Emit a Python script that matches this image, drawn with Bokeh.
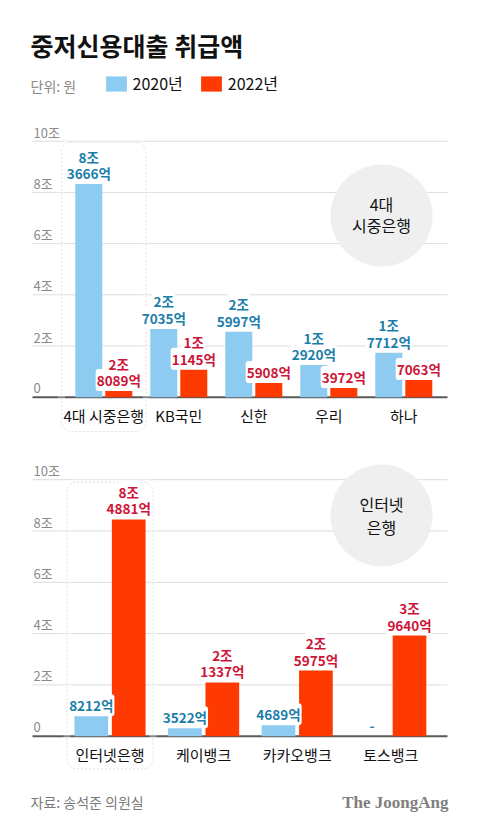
import math
from bokeh.plotting import figure
from bokeh.models import ColumnDataSource, Range1d, Legend, LegendItem, Label, BoxAnnotation
from bokeh.layouts import column
from bokeh.core.properties import value
from bokeh.embed import file_html
from bokeh.resources import INLINE

# ---------------- data ----------------
title_text = "중저신용대출 취급액"
unit_text = "단위: 원"
series_labels = ["2020년", "2022년"]
source_text = "자료: 송석준 의원실"
brand_text = "The JoongAng"

banks_a = ["4대 시중은행", "KB국민", "신한", "우리", "하나"]
a_2020 = [83666, 27035, 25997, 12920, 17712]        # 억원
a_2022 = [28089, 11145, 5908, 3972, 7063]           # 억원 (labelled values)
a_2022_drawn = [2809, 11145, 5908, 3972, 7063]      # bar heights as drawn in the original
group_a = ["4대", "시중은행"]

banks_b = ["인터넷은행", "케이뱅크", "카카오뱅크", "토스뱅크"]
b_2020 = [8212, 3522, 4689, None]
b_2022 = [84881, 21337, 25975, 39640]
group_b = ["인터넷", "은행"]

tick_values = [0, 2, 4, 6, 8, 10]
tick_labels = ["0", "2조", "4조", "6조", "8조", "10조"]

# ---------------- style ----------------
FONT = "Noto Sans CJK KR"
BLUE = "#8ecbf0"
RED = "#ff3a00"
BLUE_TXT = "#1b7ea9"
RED_TXT = "#cc1538"
GRID = "#dddddd"
W = 480
GRID_L, GRID_R = 32, 447
DODGE, BAR_W = 0.2, 0.36


def split_label(v):
    if v is None:
        return "", "-"
    if v >= 10000:
        return f"{v // 10000}조", f"{v % 10000}억"
    return "", f"{v}억"


def panel(cats, v20, v22, v22_bar, H, base_px, px_jo, px_cat, c0_px,
          circ_px, circ_lines, circ_offs, box_hw, box_top, box_bottom):
    n = len(cats)
    xr = Range1d(-c0_px / px_cat, (W - c0_px) / px_cat)
    yr = Range1d(-(H - base_px) / px_jo, base_px / px_jo)
    p = figure(width=W, height=H, x_range=xr, y_range=yr, output_backend="svg",
               toolbar_location=None, x_axis_location=None, y_axis_location=None,
               min_border=0, outline_line_color=None,
               background_fill_color="white", border_fill_color="white")
    p.grid.visible = False
    gx0 = (GRID_L - c0_px) / px_cat
    gx1 = (GRID_R - c0_px) / px_cat

    # grid lines and baseline
    p.segment(x0=gx0, x1=gx1, y0=tick_values[1:], y1=tick_values[1:],
              line_color=GRID, line_width=1, level="image")
    p.segment(x0=[gx0], x1=[gx1], y0=[0], y1=[0],
              line_color="#5a5a5a", line_width=2, level="image")
    # tick labels
    p.text(x=[gx0 + 1 / px_cat] * len(tick_values), y=tick_values, text=tick_labels,
           y_offset=-9, text_align="left", text_baseline="middle",
           text_font=value(FONT), text_font_size="13px", text_color="#8a8a8a")

    # highlight box around first group
    p.add_layout(BoxAnnotation(left=-box_hw, right=box_hw, top=box_top, bottom=box_bottom,
                               fill_color=None, line_color="white", line_width=7,
                               border_radius=10, level="underlay"))
    p.add_layout(BoxAnnotation(left=-box_hw, right=box_hw, top=box_top, bottom=box_bottom,
                               fill_color=None, line_color="#9a9a9a", line_width=1,
                               line_dash="2 2", border_radius=10, level="underlay"))

    # group circle
    cx = (circ_px[0] - c0_px) / px_cat
    cy = (base_px - circ_px[1]) / px_jo
    p.scatter(x=[cx], y=[cy], size=102, marker="circle", fill_color="#efefef", line_color=None)
    for line, off in zip(circ_lines, circ_offs):
        p.text(x=[cx], y=[cy], text=[line], y_offset=off, text_align="center",
               text_baseline="middle", text_font=value(FONT), text_font_size="16px",
               text_color="#111111")

    idx = list(range(n))
    top20 = [math.nan if v is None else v / 1e4 for v in v20]
    top22 = [v / 1e4 for v in v22_bar]
    r20 = p.vbar(x=[i - DODGE for i in idx], top=top20, bottom=0, width=BAR_W,
                 fill_color=BLUE, line_color=None)
    r22 = p.vbar(x=[i + DODGE for i in idx], top=top22, bottom=0, width=BAR_W,
                 fill_color=RED, line_color=None)

    # value labels
    for vals, heights, dx, col in ((v20, top20, -DODGE, BLUE_TXT), (v22, top22, DODGE, RED_TXT)):
        l1, l2, xs, ys = [], [], [], []
        for i, (v, h) in enumerate(zip(vals, heights)):
            a, b = split_label(v)
            l1.append(a)
            l2.append(b)
            xs.append(i + dx)
            ys.append(0 if math.isnan(h) else h)
        src = ColumnDataSource(dict(x=xs, y=ys, l1=l1, l2=l2))
        for field, off in (("l2", -10), ("l1", -26.5)):
            p.text(x="x", y="y", text=field, source=src, y_offset=off,
                   text_align="center", text_baseline="middle",
                   text_font=value(FONT), text_font_size="13.5px", text_font_style="bold",
                   text_color=col, background_fill_color="white", padding=1,
                   border_radius=3)

    # category labels
    p.text(x=idx, y=[0] * n, text=cats, y_offset=18, text_align="center",
           text_baseline="middle", text_font=value(FONT), text_font_size="15px",
           text_color="#111111")
    return p, r20, r22


H1, H2 = 445, 385
p1, r20, r22 = panel(banks_a, a_2020, a_2022, a_2022_drawn, H1, 396.7, 25.6, 75, 103.3,
                     (381, 215), group_a, (-12, 9), 0.565, 9.96, -1.34)
p2, _, _ = panel(banks_b, b_2020, b_2022, b_2022, H2, 290.7, 25.65, 93.6, 109.5,
                 (381, 70), group_b, (-11.5, 11.5), 0.46, 9.9, -1.27)

# header
p1.add_layout(Label(x=30, y=H1 - 44, x_units="screen", y_units="screen", text=title_text,
                    text_font=FONT, text_font_size="25px", text_font_style="bold",
                    text_color="#111111", text_baseline="middle"))
p1.add_layout(Label(x=30, y=H1 - 85.5, x_units="screen", y_units="screen", text=unit_text,
                    text_font=FONT, text_font_size="14px", text_color="#8a8a8a",
                    text_baseline="middle"))
legend = Legend(items=[LegendItem(label=series_labels[0], renderers=[r20]),
                       LegendItem(label=series_labels[1], renderers=[r22])],
                orientation="horizontal", location=(102.5, H1 - 95), padding=0, margin=0,
                spacing=15, border_line_color=None, background_fill_alpha=0,
                glyph_width=26, glyph_height=19, label_standoff=4, label_height=19,
                label_text_font=FONT, label_text_font_size="16px", label_text_color="#111111")
p1.add_layout(legend)

# footer
p2.add_layout(Label(x=30, y=H2 - 356.7, x_units="screen", y_units="screen", text=source_text,
                    text_font=FONT, text_font_size="14px", text_color="#7a7a7a",
                    text_baseline="middle"))
p2.add_layout(Label(x=448, y=H2 - 356.7, x_units="screen", y_units="screen", text=brand_text,
                    text_font="Liberation Serif", text_font_size="17px", text_font_style="bold",
                    text_color="#808080", text_baseline="middle", text_align="right"))

layout = column(p1, p2, spacing=0)
open("out.html", "w").write(file_html(layout, INLINE))
